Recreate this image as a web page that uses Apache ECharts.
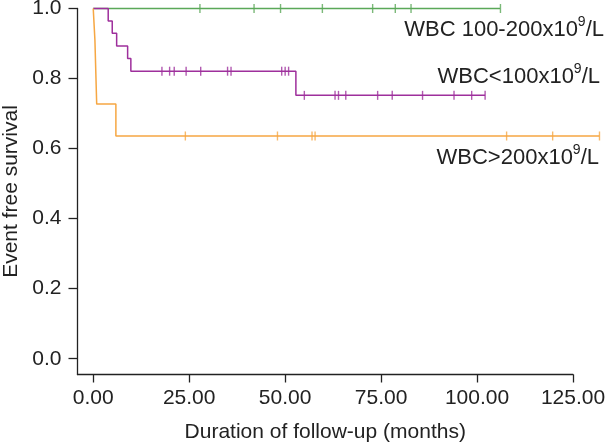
<!DOCTYPE html>
<html>
<head>
<meta charset="utf-8">
<script src="https://cdn.jsdelivr.net/npm/echarts@6/dist/echarts.min.js"></script>
<style>
  html, body { margin: 0; padding: 0; background: #fff; }
  #chart { width: 606px; height: 446px; }
</style>
</head>
<body>
<div id="chart"></div>
<script>
// Kaplan-Meier step data (months, survival)
const midTimes = [0, 106]
const midSurv = [1, 1]
const midCensor = [27.8, 41.9, 48.8, 59.7, 72.8, 78.7, 82.8, 106.1]

const lowTimes = [0, 3.9, 4.95, 6.1, 8.96, 9.8, 52.8, 102.1]
const lowSurv = [1, 0.964, 0.929, 0.893, 0.857, 0.821, 0.752, 0.752]
const lowCensor = [17.9, 19.9, 21.1, 24.2, 28.0, 35.0, 35.9, 49.1, 50.0, 50.9,
  55.0, 63.0, 63.9, 65.8, 74.1, 77.9, 85.8, 94.0, 98.6, 102.1]

const highTimes = [0, 0.44, 0.9, 5.9, 131.9]
const highSurv = [1, 0.909, 0.727, 0.636, 0.636]
const highCensor = [24.0, 48.0, 57.0, 57.8, 107.7, 119.7, 131.9]

const xTicks = [0, 25, 50, 75, 100, 125]
const yTicks = [0, 0.2, 0.4, 0.6, 0.8, 1.0]

const groupNames = ['WBC 100-200x10', 'WBC<100x10', 'WBC>200x10']

const GREEN = '#5aa858'
const PURPLE = '#9e2f9c'
const ORANGE = '#f6a743'
const INK = '#222'
const FONT = 'Liberation Sans, Arial, sans-serif'

// px layout: the axis frame stops at 125 months, the curves run on past it
const LEFT = 77.5
const TOP = 8.5
const BOTTOM = 71.5
const X_MIN = -4.1
const X_MAX = 125
const AXIS_RIGHT = 33
const PX_PER_MONTH = (606 - LEFT - AXIS_RIGHT) / (X_MAX - X_MIN)
const DATA_X_MAX = X_MIN + (606 - LEFT) / PX_PER_MONTH
const Y_MIN = -0.045

const stepPairs = (ts, ss) => ts.map((t, i) => [t, ss[i]])
// survival level at a censor time
const levelAt = (ts, ss, t) => {
  let s = ss[0]
  for (let i = 0; i < ts.length; i++) {
    if (ts[i] <= t) s = ss[i]
  }
  return s
}
const censorPairs = (cs, ts, ss) => cs.map(t => [t, levelAt(ts, ss, t)])

const kmLine = (name, data, color) => ({
  name,
  type: 'line',
  step: 'end',
  xAxisIndex: 1,
  yAxisIndex: 1,
  data,
  symbol: 'none',
  clip: false,
  lineStyle: { color, width: 1.5 },
  silent: true
})

const censorMarks = (name, data, color) => ({
  name,
  type: 'scatter',
  xAxisIndex: 1,
  yAxisIndex: 1,
  data,
  clip: false,
  symbol: 'rect',
  symbolSize: [1.4, 9],
  itemStyle: { color },
  silent: true
})

const chart = echarts.init(document.getElementById('chart'))

const labelText = (txt, right, top) => ({
  type: 'text',
  right,
  top,
  style: {
    rich: {
      m: { fontSize: 22, fontFamily: FONT, fill: INK, lineHeight: 26, verticalAlign: 'bottom' },
      s: { fontSize: 14, fontFamily: FONT, fill: INK, lineHeight: 26, verticalAlign: 'top' }
    },
    text: '{m|' + txt + '}{s|9}{m|/L}'
  }
})

const hiddenAxis = (gridIndex, min, max) => ({
  type: 'value',
  gridIndex,
  min,
  max,
  show: false,
  splitLine: { show: false }
})

chart.setOption({
  animation: false,
  grid: [
    { left: LEFT, right: AXIS_RIGHT, top: TOP, bottom: BOTTOM, outerBoundsMode: 'none', containLabel: false },
    { left: LEFT, right: 0, top: TOP, bottom: BOTTOM, outerBoundsMode: 'none', containLabel: false }
  ],
  xAxis: [
    {
      type: 'value',
      gridIndex: 0,
      min: X_MIN,
      max: X_MAX,
      name: 'Duration of follow-up (months)',
      nameLocation: 'middle',
      nameGap: 47,
      nameTextStyle: { fontSize: 21, fontFamily: FONT, color: INK },
      splitLine: { show: false },
      axisLine: { show: true, onZero: false, lineStyle: { color: INK, width: 1.3 } },
      axisTick: { show: true, length: 8, customValues: xTicks, lineStyle: { color: INK, width: 1.3 } },
      axisLabel: {
        customValues: xTicks,
        margin: 13,
        fontSize: 21,
        fontFamily: FONT,
        color: INK,
        formatter: v => v.toFixed(2)
      }
    },
    hiddenAxis(1, X_MIN, DATA_X_MAX)
  ],
  yAxis: [
    {
      type: 'value',
      gridIndex: 0,
      min: Y_MIN,
      max: 1.0,
      name: 'Event free survival',
      nameLocation: 'middle',
      nameGap: 56,
      nameTextStyle: { fontSize: 21, fontFamily: FONT, color: INK },
      splitLine: { show: false },
      axisLine: { show: true, onZero: false, lineStyle: { color: INK, width: 1.3 } },
      axisTick: { show: true, length: 9, customValues: yTicks, lineStyle: { color: INK, width: 1.3 } },
      axisLabel: {
        customValues: yTicks,
        margin: 16,
        fontSize: 21,
        fontFamily: FONT,
        color: INK,
        formatter: v => v.toFixed(1)
      }
    },
    hiddenAxis(1, Y_MIN, 1.0)
  ],
  series: [
    kmLine(groupNames[0], stepPairs(midTimes, midSurv), GREEN),
    censorMarks(groupNames[0], censorPairs(midCensor, midTimes, midSurv), GREEN),
    kmLine(groupNames[1], stepPairs(lowTimes, lowSurv), PURPLE),
    censorMarks(groupNames[1], censorPairs(lowCensor, lowTimes, lowSurv), PURPLE),
    kmLine(groupNames[2], stepPairs(highTimes, highSurv), ORANGE),
    censorMarks(groupNames[2], censorPairs(highCensor, highTimes, highSurv), ORANGE)
  ],
  graphic: [
    labelText(groupNames[0], 2, 15),
    labelText(groupNames[1], 6, 62),
    labelText(groupNames[2], 7, 143)
  ]
})
</script>
</body>
</html>
